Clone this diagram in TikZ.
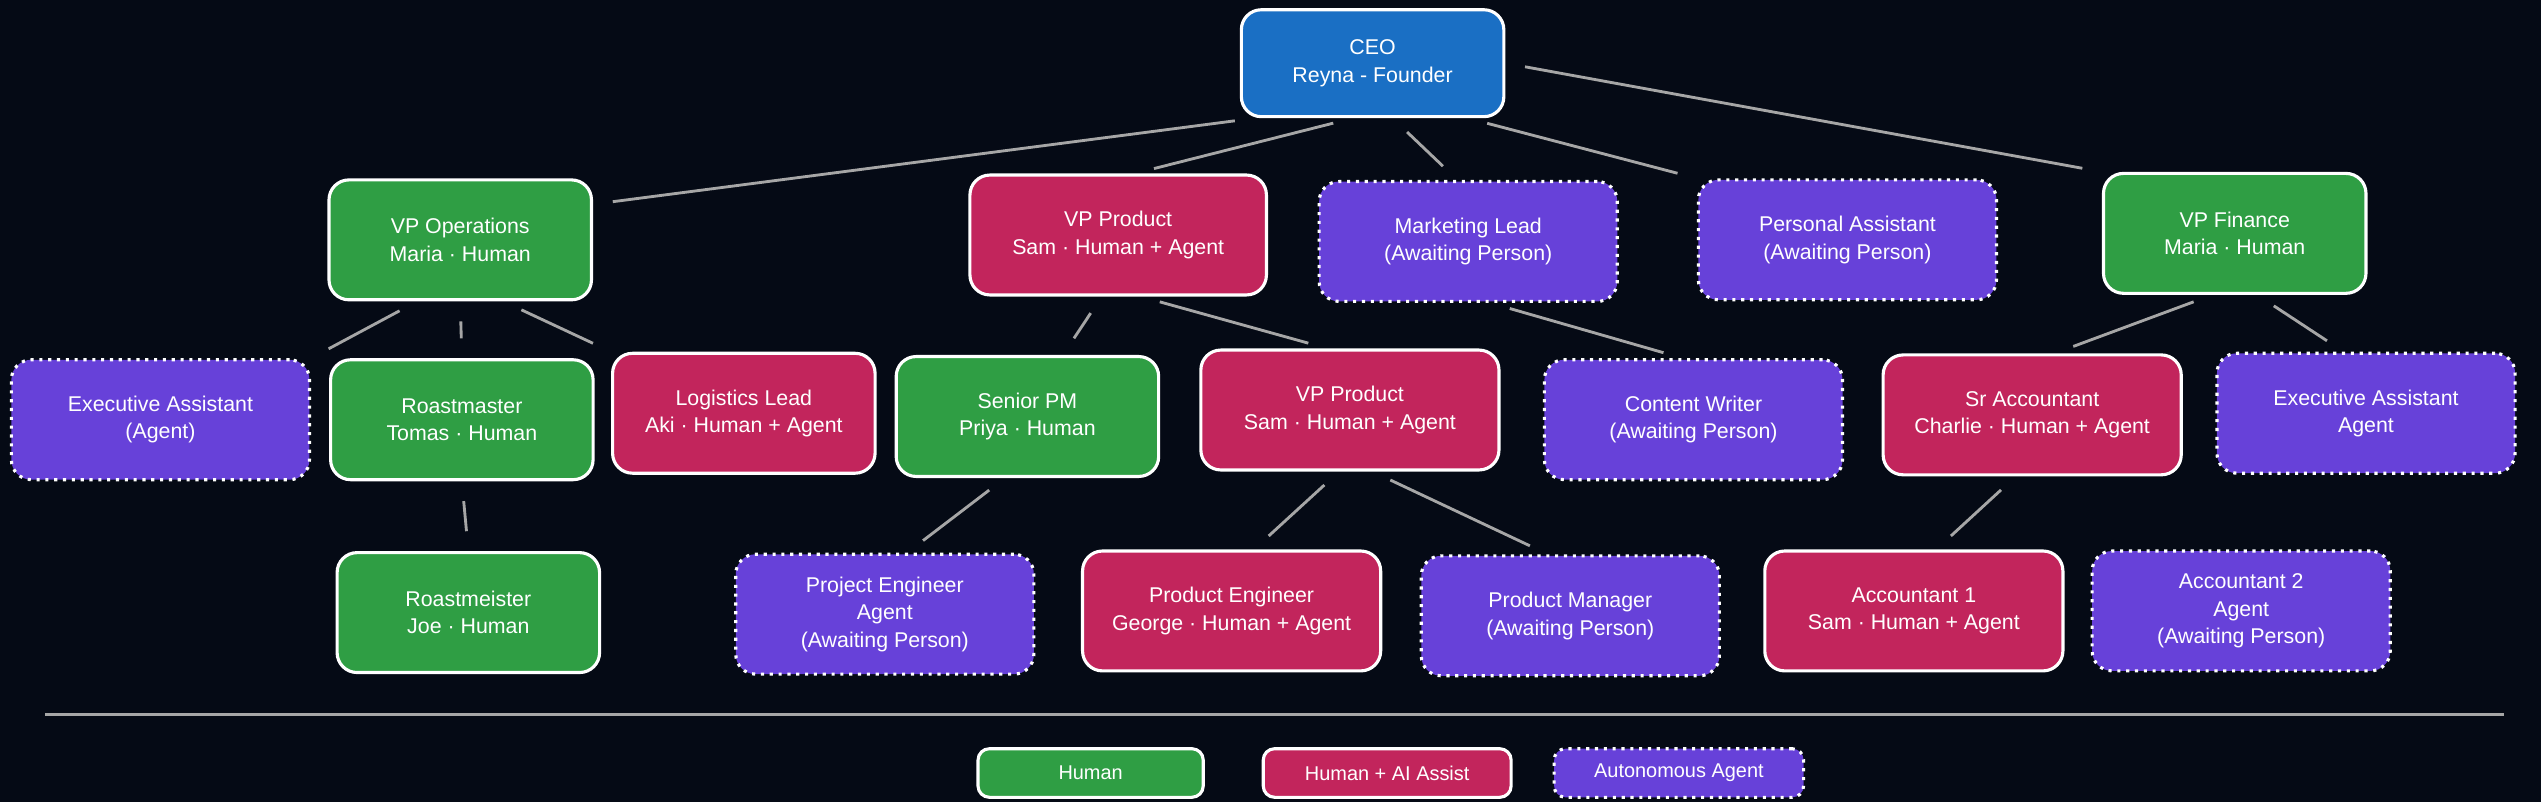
\documentclass[tikz,border=0pt]{standalone}
\usepackage{fontspec}
\setmainfont{Liberation Sans}
\definecolor{bgdark}{HTML}{050A15}
\definecolor{ceoblue}{HTML}{1A6FC4}
\definecolor{humangreen}{HTML}{2F9E44}
\definecolor{assistred}{HTML}{C2255C}
\definecolor{agentpurple}{HTML}{6741D9}
\begin{document}
\begin{tikzpicture}[x=0.02cm,y=-0.02cm]

        % Styles
        \tikzset{
          box/.style={rounded corners=7pt, draw=white, line width=1.1pt, text=white, align=center,
            font=\fontsize{7.5}{9.6}\selectfont, minimum width=3.24cm, minimum height=1.48cm, inner sep=2pt},
          wide/.style={minimum width=3.68cm},
          human/.style={box, fill=humangreen},
          assist/.style={box, fill=assistred},
          agent/.style={box, wide, fill=agentpurple, dotted},
          chief/.style={box, fill=ceoblue, minimum height=1.32cm},
          legend/.style={box, minimum height=0.6cm, rounded corners=4pt, font=\fontsize{7}{8}\selectfont},
          link/.style={draw=gray!70, line width=1pt, shorten >=7pt, shorten <=7pt}
        }
        \fill[bgdark] (0,0) rectangle (1568,495);
        \useasboundingbox (0,0) rectangle (1568,495);

        %top
        \node[chief] (ceo) at (847,39) {CEO\\Reyna - Founder};
        %second row
        \node[human] (vpops) at (284,148) {VP Operations\\Maria · Human};
        \node[assist, minimum width=3.66cm] (vpprod) at (690,145) {VP Product\\Sam · Human + Agent};
        \node[agent] (mkt) at (906,149) {Marketing Lead\\(Awaiting Person)};
        \node[agent] (pa) at (1140,148) {Personal Assistant\\(Awaiting Person)};
        \node[human] (vpfin) at (1379,144) {VP Finance\\Maria · Human};
        %third row
        \node[agent] (execops) at (99,259) {Executive Assistant\\(Agent)};
        \node[human] (roast) at (285,259) {Roastmaster\\Tomas · Human};
        \node[assist] (logi) at (459,255) {Logistics Lead\\Aki · Human + Agent};
        \node[human] (spm) at (634,257) {Senior PM\\Priya · Human};
        \node[assist, wide] (vpprodb) at (833,253) {VP Product\\Sam · Human + Agent};
        \node[agent] (cw) at (1045,259) {Content Writer\\(Awaiting Person)};
        \node[assist, wide] (sracc) at (1254,256) {Sr Accountant\\Charlie · Human + Agent};
        \node[agent] (execfin) at (1460,255) {Executive Assistant\\Agent};
        %fourth row
        \node[human] (roastm) at (289,378) {Roastmeister\\Joe · Human};
        \node[agent] (projeng) at (546,379) {Project Engineer\\Agent\\(Awaiting Person)};
        \node[assist, wide] (prodeng) at (760,377) {Product Engineer\\George · Human + Agent};
        \node[agent] (prodman) at (969,380) {Product Manager\\(Awaiting Person)};
        \node[assist, wide] (accone) at (1181,377) {Accountant 1\\Sam · Human + Agent};
        \node[agent] (acctwo) at (1383,377) {Accountant 2\\Agent\\(Awaiting Person)};

        %links
        \foreach \a/\b in {ceo.205/vpops.15, ceo.250/vpprod.75, ceo.290/mkt.100, ceo.330/pa.north west,
            ceo.east/vpfin.north west, vpops.235/execops.north east, vpops.south/roast.north,
            vpops.305/logi.north west, vpprod.255/spm.60, vpprod.290/vpprodb.110, mkt.290/cw.100,
            vpfin.250/sracc.70, vpfin.290/execfin.110, roast.south/roastm.north, spm.250/projeng.70,
            vpprodb.260/prodeng.70, vpprodb.290/prodman.110, sracc.255/accone.70}
            \draw[link] (\a) -- (\b);

        %legend
        \coordinate (sepl) at (28,441);
        \coordinate (sepr) at (1545,441);
        \draw[gray!70, line width=1pt] (sepl) -- (sepr);
        \node[legend, fill=humangreen, minimum width=2.78cm] (lhuman) at (673,477) {Human};
        \node[legend, fill=assistred, minimum width=3.06cm] (lassist) at (856,477) {Human + AI Assist};
        \node[legend, fill=agentpurple, dotted, minimum width=3.08cm] (lagent) at (1036,477) {Autonomous Agent};
\end{tikzpicture}
\end{document}
